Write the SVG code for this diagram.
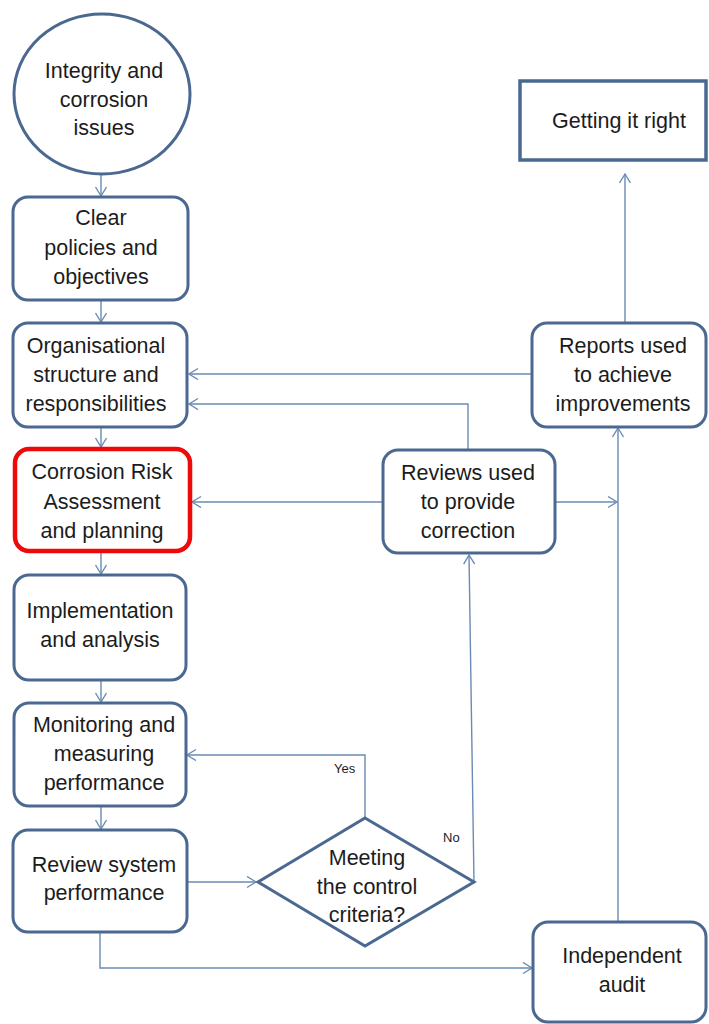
<svg xmlns="http://www.w3.org/2000/svg" width="709" height="1024" viewBox="0 0 709 1024">
<style>
.box{fill:#fff;stroke:#4b6891;stroke-width:3}
.red{fill:#fff;stroke:#ee0a0a;stroke-width:4.5}
.t{font-family:"Liberation Sans",Arial,sans-serif;font-size:21.5px;fill:#1c1c1c;text-anchor:middle}
.s{font-family:"Liberation Sans",Arial,sans-serif;font-size:13px;fill:#1c1c1c}
.c{fill:none;stroke:#6a8bb3;stroke-width:1.4}
</style>
<defs>
<marker id="a" markerUnits="userSpaceOnUse" markerWidth="14" markerHeight="14" refX="10" refY="6" orient="auto">
<path d="M1,0.5 L10,6 L1,11.5" fill="none" stroke="#6a8bb3" stroke-width="1.4"/>
</marker>
</defs>
<rect width="709" height="1024" fill="#fff"/>
<g id="connectors">
<line class="c" x1="101" y1="173" x2="101" y2="196" marker-end="url(#a)"/>
<line class="c" x1="101" y1="301" x2="101" y2="322" marker-end="url(#a)"/>
<line class="c" x1="101" y1="428" x2="101" y2="447" marker-end="url(#a)"/>
<line class="c" x1="101" y1="553" x2="101" y2="574" marker-end="url(#a)"/>
<line class="c" x1="101" y1="681" x2="101" y2="702" marker-end="url(#a)"/>
<line class="c" x1="101" y1="807" x2="101" y2="829" marker-end="url(#a)"/>
<line class="c" x1="625" y1="322" x2="625" y2="174" marker-end="url(#a)"/>
<line class="c" x1="532" y1="374" x2="189" y2="374" marker-end="url(#a)"/>
<polyline class="c" points="468,449 468,404 189,404" marker-end="url(#a)"/>
<line class="c" x1="383" y1="502" x2="192" y2="502" marker-end="url(#a)"/>
<line class="c" x1="556" y1="502" x2="617" y2="502" marker-end="url(#a)"/>
<line class="c" x1="618" y1="922" x2="618" y2="428" marker-end="url(#a)"/>
<line class="c" x1="474" y1="882" x2="469" y2="555" marker-end="url(#a)"/>
<polyline class="c" points="365,818 365,755 187,755" marker-end="url(#a)"/>
<line class="c" x1="188" y1="882" x2="256" y2="882" marker-end="url(#a)"/>
<polyline class="c" points="100,933 100,968 532,968" marker-end="url(#a)"/>
</g>
<g id="n-integrity">
<ellipse class="box" cx="102" cy="94" rx="88" ry="80"/>
<text class="t" x="104" y="78">Integrity and</text>
<text class="t" x="104" y="107">corrosion</text>
<text class="t" x="104" y="135">issues</text>
</g>
<g id="n-policies">
<rect class="box" x="13" y="197" width="175" height="103" rx="15"/>
<text class="t" x="101" y="225">Clear</text>
<text class="t" x="101" y="255">policies and</text>
<text class="t" x="101" y="284">objectives</text>
</g>
<g id="n-org">
<rect class="box" x="13" y="323" width="174" height="104" rx="15"/>
<text class="t" x="96" y="353">Organisational</text>
<text class="t" x="96" y="382">structure and</text>
<text class="t" x="96" y="411">responsibilities</text>
</g>
<g id="n-risk">
<rect class="red" x="15" y="449" width="175" height="102" rx="14"/>
<text class="t" x="102" y="479">Corrosion Risk</text>
<text class="t" x="102" y="509">Assessment</text>
<text class="t" x="102" y="538">and planning</text>
</g>
<g id="n-impl">
<rect class="box" x="14" y="575" width="172" height="105" rx="15"/>
<text class="t" x="100" y="618">Implementation</text>
<text class="t" x="100" y="647">and analysis</text>
</g>
<g id="n-monitor">
<rect class="box" x="14" y="703" width="172" height="103" rx="15"/>
<text class="t" x="104" y="732">Monitoring and</text>
<text class="t" x="104" y="761">measuring</text>
<text class="t" x="104" y="790">performance</text>
</g>
<g id="n-review">
<rect class="box" x="13" y="830" width="174" height="102" rx="15"/>
<text class="t" x="104" y="872">Review system</text>
<text class="t" x="104" y="900">performance</text>
</g>
<g id="n-criteria">
<polygon class="box" points="365,818 474,882 365,946 258,882"/>
<text class="t" x="367" y="865">Meeting</text>
<text class="t" x="367" y="894">the control</text>
<text class="t" x="367" y="922">criteria?</text>
</g>
<g id="n-audit">
<rect class="box" x="533" y="922" width="173" height="100" rx="15"/>
<text class="t" x="622" y="963">Independent</text>
<text class="t" x="622" y="992">audit</text>
</g>
<g id="n-right">
<rect x="520" y="81" width="186" height="79" fill="#fff" stroke="#4b6891" stroke-width="3.5"/>
<text class="t" x="619" y="128">Getting it right</text>
</g>
<g id="n-reports">
<rect class="box" x="532" y="323" width="174" height="104" rx="15"/>
<text class="t" x="623" y="353">Reports used</text>
<text class="t" x="623" y="382">to achieve</text>
<text class="t" x="623" y="411">improvements</text>
</g>
<g id="n-reviews">
<rect class="box" x="383" y="450" width="172" height="103" rx="15"/>
<text class="t" x="468" y="480">Reviews used</text>
<text class="t" x="468" y="509">to provide</text>
<text class="t" x="468" y="538">correction</text>
</g>
<text class="s" x="334" y="773">Yes</text>
<text class="s" x="443" y="842">No</text>
</svg>
